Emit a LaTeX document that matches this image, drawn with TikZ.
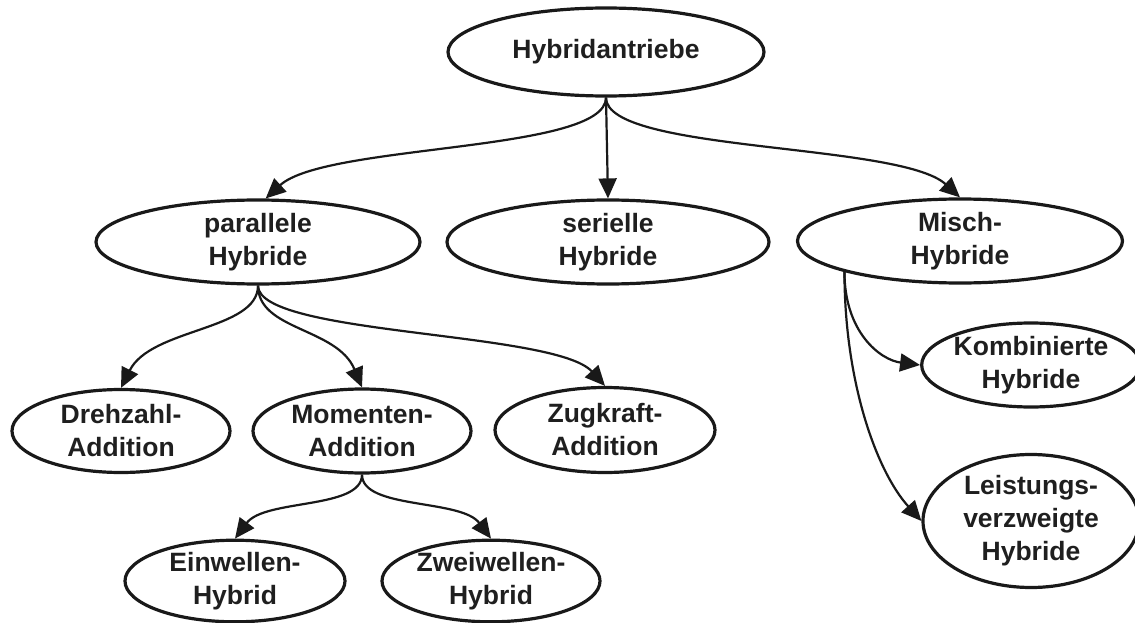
\documentclass[tikz,border=0pt]{standalone}
\usepackage{fontspec}
\setmainfont{Liberation Sans}
\usetikzlibrary{shapes.geometric,arrows.meta}
\begin{document}
\begin{tikzpicture}[x=1pt,y=-1pt,
  class/.style={ellipse,draw=black!90,line width=3.2pt,inner sep=0pt,align=center,
    font=\fontsize{26.5}{33}\selectfont\bfseries,text=black!88},
  conn/.style={line width=2.2pt,draw=black!90,
    -{Triangle[length=20pt,width=18pt]}}]
\useasboundingbox (0,0) rectangle (1135,623);

% tree of hybrid drive types
\node[class,minimum width=316pt,minimum height=88pt] (top) at (606,52) {Hybridantriebe};
\node[class,minimum width=324pt,minimum height=84pt] (par) at (258,242) {parallele\\Hybride};
\node[class,minimum width=322pt,minimum height=84pt] (ser) at (608,242) {serielle\\Hybride};
\node[class,minimum width=325pt,minimum height=84pt] (misch) at (960,241) {Misch-\\Hybride};

\node[class,minimum width=218pt,minimum height=83pt] (dreh) at (121,431) {Drehzahl-\\Addition};
\node[class,minimum width=218pt,minimum height=84pt] (mom) at (362,431) {Momenten-\\Addition};
\node[class,minimum width=220pt,minimum height=85pt] (zug) at (605,430) {Zugkraft-\\Addition};

\node[class,minimum width=220pt,minimum height=81pt] (einw) at (235,581) {Einwellen-\\Hybrid};
\node[class,minimum width=218pt,minimum height=81pt] (zweiw) at (491,581) {Zweiwellen-\\Hybrid};

\node[class,minimum width=216pt,minimum height=84pt] (komb) at (1031,365) {Kombinierte\\Hybride};
\node[class,minimum width=216pt,minimum height=133pt] (leist) at (1031,521) {Leistungs-\\verzweigte\\Hybride};

% connectors
\draw[conn] (top.south) .. controls +(0,55) and +(60,-55) .. (par.80);
\draw[conn] (top.south) -- (ser.north);
\draw[conn] (top.south) .. controls +(0,55) and +(-60,-55) .. (misch.north);

\draw[conn] (par.south) .. controls +(0,45) and +(30,-60) .. (dreh.north);
\draw[conn] (par.south) .. controls +(0,45) and +(-25,-60) .. (mom.north);
\draw[conn] (par.south) .. controls +(0,50) and +(-50,-55) .. (zug.north);

\draw[conn] (mom.south) .. controls +(0,35) and +(30,-40) .. (einw.north);
\draw[conn] (mom.south) .. controls +(0,35) and +(-30,-40) .. (zweiw.north);

\draw[conn] (misch.195) .. controls +(0,60) and +(-40,-5) .. (komb.west);
\draw[conn] (misch.195) .. controls +(0,110) and +(-45,-50) .. (leist.west);
\end{tikzpicture}
\end{document}
